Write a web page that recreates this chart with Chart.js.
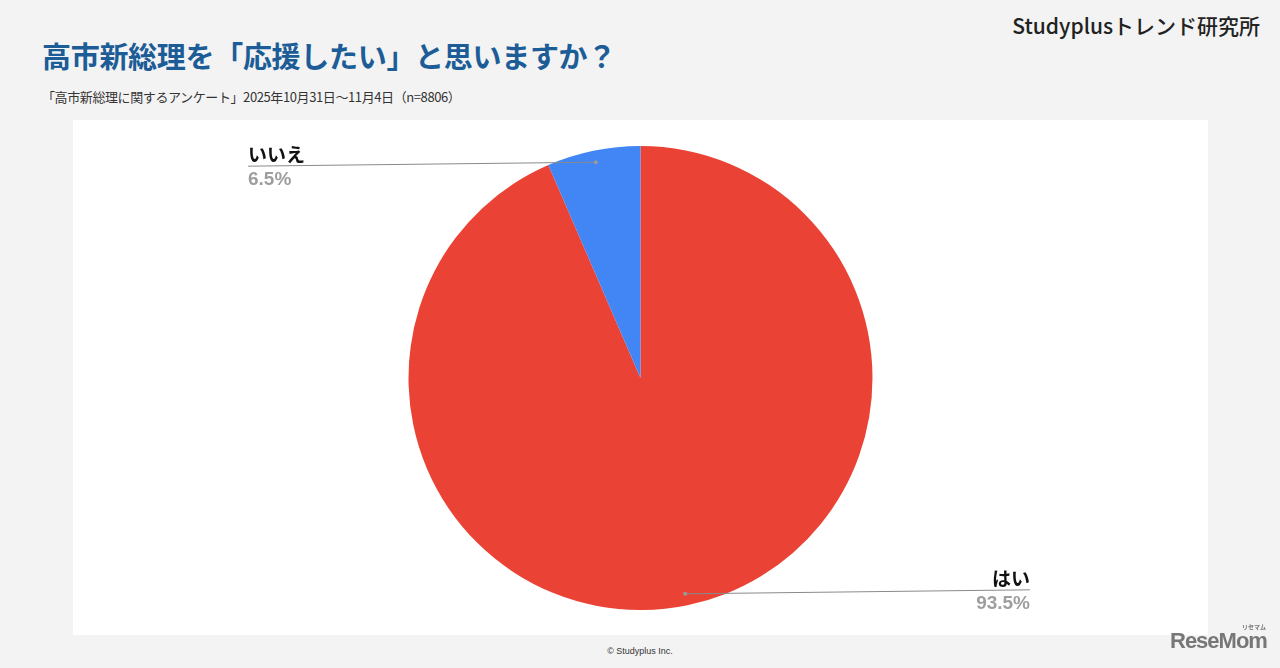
<!DOCTYPE html>
<html><head><meta charset="utf-8">
<script src="https://cdn.jsdelivr.net/npm/chart.js@4"></script>
<style>
html,body{margin:0;padding:0;width:1280px;height:668px;overflow:hidden;background:#f3f3f3;font-family:"Noto Sans CJK JP","Noto Sans",sans-serif;}
#title{position:absolute;left:42px;top:34px;font-size:29px;font-weight:bold;color:#1d5d97;letter-spacing:-0.3px;white-space:nowrap;}
#sub{position:absolute;left:42px;top:87px;font-size:13px;color:#333;white-space:nowrap;letter-spacing:-0.4px;}
#brand{position:absolute;right:20px;top:10px;font-size:21px;font-weight:500;color:#222;white-space:nowrap;}
#box{position:absolute;left:73px;top:120px;width:1135px;height:515px;background:#fff;}
#foot{position:absolute;left:0;width:1280px;top:646px;text-align:center;font-family:"Liberation Sans",Arial,sans-serif;font-size:9px;color:#333;}
#rm{position:absolute;left:1170px;top:628px;font-family:"Liberation Sans",Arial,sans-serif;font-weight:bold;font-size:22px;color:#777;letter-spacing:-1px;}
#rm small{position:absolute;left:72px;top:-6px;font-size:6px;letter-spacing:0;font-family:"Noto Sans CJK JP";}
</style></head>
<body>
<div id="title">高市新総理を「応援したい」と思いますか？</div>
<div id="sub">「高市新総理に関するアンケート」2025年10月31日～11月4日（n=8806）</div>
<div id="brand">Studyplusトレンド研究所</div>
<div id="box"><canvas id="c" width="1135" height="515"></canvas></div>
<div id="foot">© Studyplus Inc.</div>
<div id="rm">ReseMom<small>リセマム</small></div>
<script>
const categories = ["はい", "いいえ"];
const values = [93.5, 6.5];
const colors = ["#EA4335", "#4285F4"];

const leaderPlugin = {
  id: 'leader',
  afterDraw(chart) {
    const ctx = chart.ctx;
    const meta = chart.getDatasetMeta(0);
    const total = values.reduce((a, b) => a + b, 0);
    meta.data.forEach((arc, i) => {
      const p = arc.getProps(['x','y','startAngle','endAngle','outerRadius'], true);
      const mid = (p.startAngle + p.endAngle) / 2;
      const dx = p.x + Math.cos(mid) * p.outerRadius * 0.95;
      const dy = p.y + Math.sin(mid) * p.outerRadius * 0.95;
      const left = Math.cos(mid) < 0;
      const top = Math.sin(mid) < 0;
      const ex = left ? p.x - 392.5 : p.x + 389.5;
      const ey = dy + (top ? 4 : -4);
      ctx.save();
      ctx.strokeStyle = '#8a8a8a';
      ctx.lineWidth = 1;
      ctx.beginPath();
      ctx.moveTo(dx, dy);
      ctx.lineTo(ex, ey);
      ctx.stroke();
      ctx.fillStyle = '#9a9a9a';
      ctx.beginPath();
      ctx.arc(dx, dy, 2, 0, Math.PI * 2);
      ctx.fill();
      ctx.textAlign = left ? 'left' : 'right';
      ctx.textBaseline = 'alphabetic';
      ctx.fillStyle = '#111';
      ctx.font = 'bold 19px "Noto Sans CJK JP", sans-serif';
      ctx.fillText(categories[i], ex, ey - 4);
      ctx.fillStyle = '#9e9e9e';
      ctx.font = 'bold 19px "Liberation Sans", Arial, sans-serif';
      const pct = (values[i] / total * 100).toFixed(1) + '%';
      ctx.fillText(pct, ex, ey + 19);
      ctx.restore();
    });
  }
};

new Chart(document.getElementById('c'), {
  type: 'pie',
  data: {
    labels: categories,
    datasets: [{ data: values, backgroundColor: colors, borderWidth: 0 }]
  },
  options: {
    responsive: false,
    animation: false,
    layout: { padding: { top: 26, bottom: 25 } },
    plugins: { legend: { display: false }, tooltip: { enabled: false } }
  },
  plugins: [leaderPlugin]
});
</script>
</body></html>
